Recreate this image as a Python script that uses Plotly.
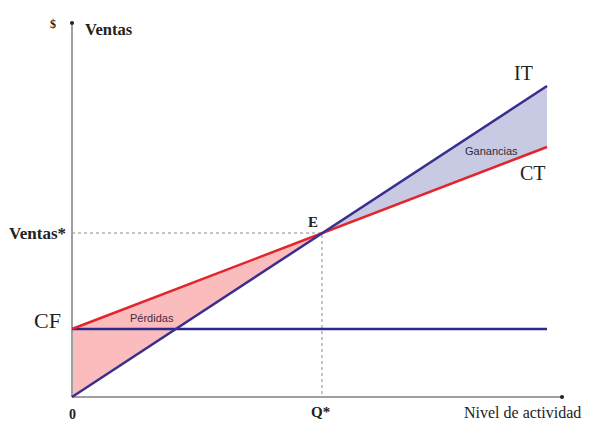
import plotly.graph_objects as go

# Data (units)
q = [0, 19]                 # activity level range
ingreso_total = [0, 311]    # IT
costo_total = [68, 250]     # CT
costo_fijo = [68, 68]       # CF
q_star = 10                 # break-even quantity
ventas_star = 164           # break-even sales

serif = "Liberation Serif, Times New Roman, serif"
sans = "Liberation Sans, Arial, sans-serif"

fig = go.Figure()

# Loss area (between CT and IT before E)
fig.add_trace(go.Scatter(
    x=[q[0], q_star, q[0]], y=[costo_total[0], ventas_star, ingreso_total[0]],
    fill="toself", fillcolor="rgb(250,188,188)", line=dict(width=0),
    mode="lines", hoverinfo="skip", showlegend=False))
# Profit area (between IT and CT after E)
fig.add_trace(go.Scatter(
    x=[q_star, q[1], q[1]], y=[ventas_star, ingreso_total[1], costo_total[1]],
    fill="toself", fillcolor="rgb(200,202,228)", line=dict(width=0),
    mode="lines", hoverinfo="skip", showlegend=False))

# Dotted guides
fig.add_trace(go.Scatter(x=[0, q_star, q_star], y=[ventas_star, ventas_star, 0],
                         mode="lines", line=dict(color="#8a8a8a", width=1, dash="dot"),
                         hoverinfo="skip", showlegend=False))

# Axes
fig.add_trace(go.Scatter(x=[0, 0], y=[0, 372], mode="lines",
                         line=dict(color="#a0a0a0", width=2), showlegend=False, hoverinfo="skip"))
fig.add_trace(go.Scatter(x=[0, 19.6], y=[0, 0], mode="lines",
                         line=dict(color="#a0a0a0", width=2), showlegend=False, hoverinfo="skip"))
fig.add_trace(go.Scatter(x=[0, 19.6], y=[374, 0], mode="markers",
                         marker=dict(color="#222", size=4), showlegend=False, hoverinfo="skip"))

# Lines
fig.add_trace(go.Scatter(x=q, y=costo_fijo, mode="lines",
                         line=dict(color="#2b2a8c", width=2.5), name="CF", showlegend=False))
fig.add_trace(go.Scatter(x=q, y=costo_total, mode="lines",
                         line=dict(color="#e3242b", width=2.5), name="CT", showlegend=False))
fig.add_trace(go.Scatter(x=q, y=ingreso_total, mode="lines",
                         line=dict(color="#3a2f8e", width=2.5), name="IT", showlegend=False))

ann = []
def add(x, y, text, size, family, bold=False, xanchor="center", yanchor="middle", color="#222"):
    t = f"<b>{text}</b>" if bold else text
    ann.append(dict(x=x, y=y, xref="x", yref="y", text=t, showarrow=False,
                    font=dict(size=size, family=family, color=color),
                    xanchor=xanchor, yanchor=yanchor))

add(-0.56, 373, "$", 12, serif, True, xanchor="right")
add(0.45, 368, "Ventas", 16.5, serif, True, xanchor="left")
add(-0.16, ventas_star, "Ventas*", 17, serif, True, xanchor="right")
add(-0.36, costo_fijo[0] + 9, "CF", 22, serif, False, xanchor="right")
add(0, -17, "0", 14, serif, True)
add(q_star - 0.08, -15, "Q*", 15, serif, True)
add(20.45, -15, "Nivel de actividad", 16, serif, False, xanchor="right")
add(q_star - 0.36, ventas_star + 11, "E", 15, serif, True)
add(18.04, 324, "IT", 20, serif, False)
add(18.44, 224, "CT", 20, serif, False)
add(3.2, 79, "Pérdidas", 11, sans, False, color="#4a2a3a")
add(16.76, 246, "Ganancias", 11, sans, False, color="#2a2a40")

# The page body adds an 8px offset, so the figure is 8px smaller and
# the axis ranges are shifted accordingly.
fig.update_layout(
    width=584, height=413,
    margin=dict(l=0, r=0, t=0, b=0),
    paper_bgcolor="white", plot_bgcolor="white",
    xaxis=dict(range=[-64/25, 520/25], visible=False, fixedrange=True),
    yaxis=dict(range=[-24, 389], visible=False, fixedrange=True),
    annotations=ann,
)

fig.write_html("out.html", config={"displayModeBar": False})
